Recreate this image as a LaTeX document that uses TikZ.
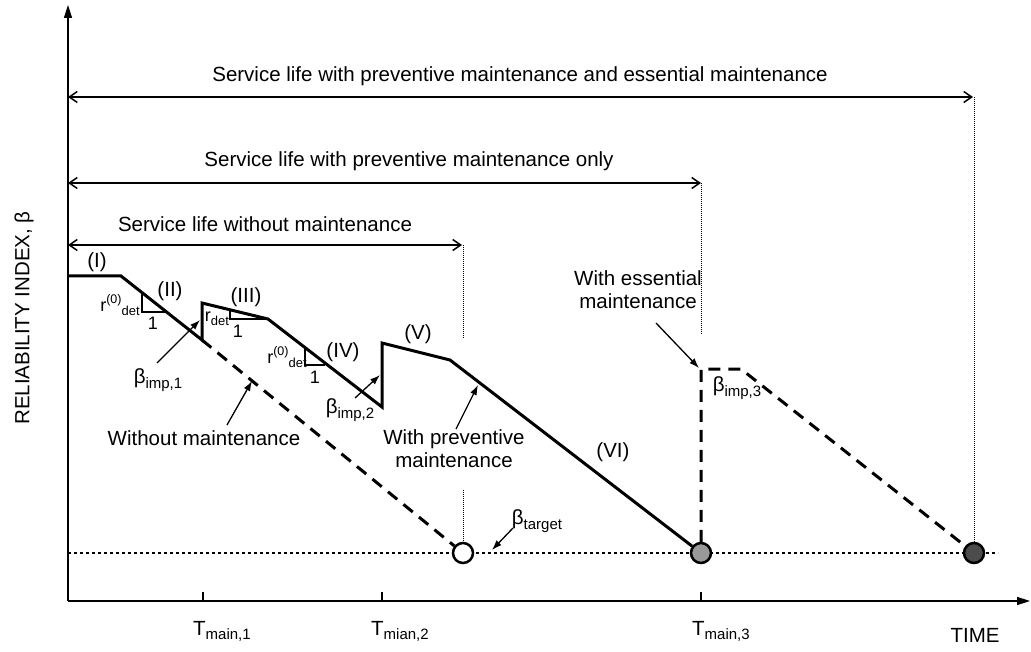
\documentclass[tikz,border=0pt]{standalone}
\usepackage{fontspec}
\setmainfont{Liberation Sans}
\usetikzlibrary{arrows.meta}
\newcommand\lowtxt[1]{\raisebox{-0.45ex}{\fontsize{15}{15}\selectfont #1}}
\newcommand\hightxt[1]{\raisebox{0.8ex}{\fontsize{12.5}{12.5}\selectfont #1}}
\newcommand\lowsm[1]{\raisebox{-0.45ex}{\fontsize{13}{13}\selectfont #1}}
\begin{document}
\begin{tikzpicture}[x=1pt,y=-1pt,
  txt/.style={inner sep=0pt, font=\fontsize{20.5}{23}\selectfont},
  smtxt/.style={inner sep=0pt, font=\fontsize{18}{20}\selectfont},
  axis/.style={line width=1.5pt, -{Triangle[length=13pt,width=8pt]}},
  dim/.style={line width=1.5pt, {Straight Barb[length=8pt,width=11pt]}-{Straight Barb[length=8pt,width=11pt]}},
  mainline/.style={line width=3pt, line join=miter},
  dsh/.style={line width=3pt, dash pattern=on 12pt off 8pt},
  basedot/.style={line width=2.5pt, dash pattern=on 3pt off 3pt},
  vdot/.style={line width=1pt, dash pattern=on 1pt off 1pt},
  ptr/.style={line width=1.3pt, -{Latex[length=10pt,width=7pt]}},
  circ/.style={circle, draw, line width=2.5pt, minimum size=20pt, inner sep=0pt},
  slope/.style={line width=1.5pt}]
\useasboundingbox (0,0) rectangle (1031,652);

% axes
\coordinate (O) at (68,601);
\coordinate (ytop) at (68,5);
\coordinate (xend) at (1030,601);
\draw[axis] (O) -- (ytop);
\draw[axis] (O) -- (xend);

% ticks
\foreach \n/\x in {t1/203,t2/382,t3/701}{
  \coordinate (\n) at (\x,601);
  \draw[line width=1.2pt] (\n) -- ++(0,-9);
}
\node[txt, anchor=base west] (T1) at (193,635) {T\lowtxt{main,1}};
\node[txt, anchor=base west] (T2) at (371,635) {T\lowtxt{mian,2}};
\node[txt, anchor=base west] (T3) at (692,635) {T\lowtxt{main,3}};
\node[txt, anchor=base] (time) at (975,642) {TIME};
\node[txt, rotate=90] (ylab) at (24,318) {RELIABILITY INDEX, β};

% target baseline
\coordinate (b0) at (68,553);
\coordinate (b1) at (998,553);
\draw[basedot] (b0) -- (b1);

% service life arrows
\coordinate (a1l) at (68,97);  \coordinate (a1r) at (973,97);
\coordinate (a2l) at (68,183); \coordinate (a2r) at (701,183);
\coordinate (a3l) at (68,245); \coordinate (a3r) at (462,245);
\draw[dim] (a1l) -- (a1r);
\draw[dim] (a2l) -- (a2r);
\draw[dim] (a3l) -- (a3r);
\node[txt] (s1) at (520,76) {Service life with preventive maintenance and essential maintenance};
\node[txt] (s2) at (409,161) {Service life with preventive maintenance only};
\node[txt] (s3) at (265,224) {Service life without maintenance};

% end circles
\node[circ, fill=white] (c1) at (463,553) {};
\node[circ, fill=black!40] (c2) at (701,553) {};
\node[circ, fill=black!70] (c3) at (974,553) {};

% vertical dotted lines
\coordinate (v1a) at (463,245); \coordinate (v1b) at (463,338);
\coordinate (v1c) at (463,490);
\coordinate (v2a) at (701,183); \coordinate (v2b) at (701,335);
\coordinate (v3a) at (974,97);
\draw[vdot] (v1a) -- (v1b);
\draw[vdot] (v1c) -- (c1.north);
\draw[vdot] (v2a) -- (v2b);
\draw[vdot] (v3a) -- (c3.north);

% main path
\coordinate (p1) at (68,276);
\coordinate (p2) at (121,276);
\coordinate (p3) at (202,340);
\coordinate (p4) at (202,303);
\coordinate (p5) at (268,319);
\coordinate (p6) at (382,407);
\coordinate (p7) at (382,343);
\coordinate (p8) at (450,360);
\draw[mainline] (p1) -- (p2) -- (p3) -- (p4) -- (p5) -- (p6) -- (p7) -- (p8) -- (c2);

% without maintenance dashed
\draw[dsh] (p3) -- (c1);

% essential maintenance dashed
\coordinate (e1) at (701,369);
\coordinate (e2) at (741,369);
\draw[dsh] (c2) -- (e1) -- (e2) -- (c3);

% slope triangles
\coordinate (r1a) at (142,293); \coordinate (r1b) at (142,312); \coordinate (r1c) at (166,312);
\draw[slope] (r1a) -- (r1b) -- (r1c);
\coordinate (r2a) at (230,310); \coordinate (r2b) at (230,319); \coordinate (r2c) at (268,319);
\draw[slope] (r2a) -- (r2b) -- (r2c);
\coordinate (r3a) at (305,348); \coordinate (r3b) at (305,365); \coordinate (r3c) at (325,365);
\draw[slope] (r3a) -- (r3b) -- (r3c);
\node[smtxt] (rl1) at (120,305) {r\hightxt{(0)}\lowsm{det}};
\node[smtxt] (one1) at (153,323) {1};
\node[smtxt] (rl2) at (217,319) {r\lowsm{det}};
\node[smtxt] (one2) at (238,331) {1};
\node[smtxt] (rl3) at (287,357) {r\hightxt{(0)}\lowsm{det}};
\node[smtxt] (one3) at (315,377) {1};

% phase labels
\node[txt] (ph1) at (97,262) {(I)};
\node[txt] (ph2) at (170,291) {(II)};
\node[txt] (ph3) at (246,297) {(III)};
\node[txt] (ph4) at (343,352) {(IV)};
\node[txt] (ph5) at (418,334) {(V)};
\node[txt] (ph6) at (613,452) {(VI)};

% pointer labels
\node[txt] (bi1) at (158,380) {β\lowtxt{imp,1}};
\coordinate (bi1s) at (157,363); \coordinate (bi1e) at (200,320);
\draw[ptr] (bi1s) -- (bi1e);

\node[txt] (bi2) at (350,410) {β\lowtxt{imp,2}};
\coordinate (bi2s) at (355,398); \coordinate (bi2e) at (380,375);
\draw[ptr] (bi2s) -- (bi2e);

\node[txt] (bi3) at (737,388) {β\lowtxt{imp,3}};

\node[txt] (wom) at (204,438) {Without maintenance};
\coordinate (woms) at (227,425); \coordinate (wome) at (252,381);
\draw[ptr] (woms) -- (wome);

\node[txt, align=center] (wpm) at (454,449) {With preventive\\maintenance};
\coordinate (wpms) at (456,429); \coordinate (wpme) at (478,385);
\draw[ptr] (wpms) -- (wpme);

\node[txt, align=center] (wem) at (638,290) {With essential\\maintenance};
\coordinate (wems) at (656,323); \coordinate (weme) at (699,368);
\draw[ptr] (wems) -- (weme);

\node[txt] (bt) at (537,521) {β\lowtxt{target}};
\coordinate (bts) at (513,528); \coordinate (bte) at (492,550);
\draw[ptr] (bts) -- (bte);
\end{tikzpicture}
\end{document}
